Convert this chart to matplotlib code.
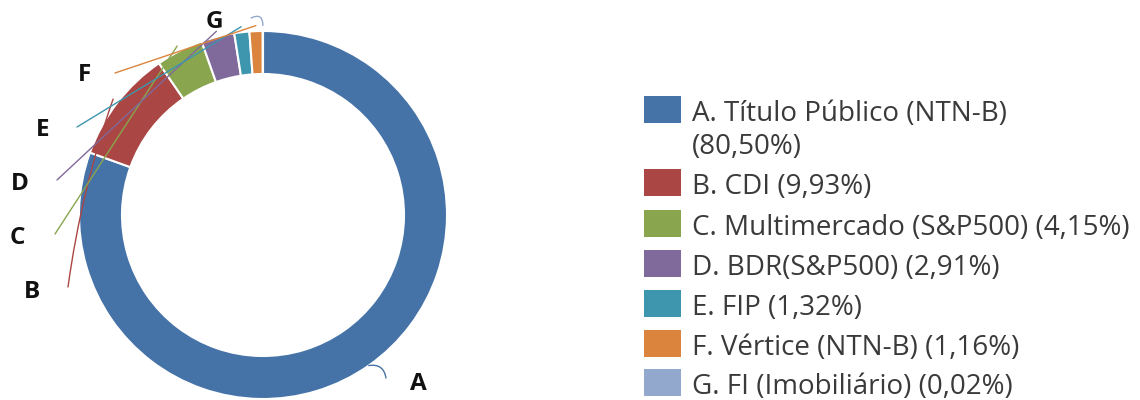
import matplotlib
matplotlib.use("Agg")
import matplotlib.pyplot as plt
from matplotlib.patches import Rectangle
import numpy as np

# ---------------------------------------------------------------------
# Data
# ---------------------------------------------------------------------
letters = ["A", "B", "C", "D", "E", "F", "G"]
names = ["Título Público (NTN-B)", "CDI", "Multimercado (S&P500)", "BDR(S&P500)",
         "FIP", "Vértice (NTN-B)", "FI (Imobiliário)"]
shares = [80.50, 9.93, 4.15, 2.91, 1.32, 1.16, 0.02]
colors = ["#4572A7", "#AA4643", "#89A54E", "#80699B", "#3D96AE", "#DB843D", "#92A8CD"]

# layout in pixel space (y measured from top, converted below)
W, H = 1140, 400
center_px = (263, 215)
radius = 184
ring = 43

# label positions and leader-line starts (pixels from top-left)
label_pos = {"A": (418, 384), "B": (32, 292), "C": (17, 238), "D": (20, 184),
             "E": (43, 130), "F": (84, 75), "G": (214, 22)}
leader_start = {"A": (386, 378), "B": (68, 287), "C": (55, 234), "D": (57, 180),
                "E": (77, 127), "F": (115, 73), "G": (251, 18)}
leader_rad = {"A": 0.5, "B": -0.05, "C": 0.0, "D": 0.0, "E": 0.0, "F": 0.0, "G": -0.8}

# legend rows: square tops (pixels from top)
sq_top = [96, 169, 210, 250, 290, 330, 369]


def Y(y):
    return H - y


fig = plt.figure(figsize=(W / 100, H / 100), dpi=100)
ax = fig.add_axes([0, 0, 1, 1])

cx, cy = center_px[0], Y(center_px[1])
wedges, _ = ax.pie(shares, colors=colors, startangle=90, counterclock=False,
                   center=(cx, cy), radius=radius,
                   wedgeprops=dict(width=ring, edgecolor="white", linewidth=1.5))

ax.set_xlim(0, W)
ax.set_ylim(0, H)
ax.set_aspect("equal")
ax.axis("off")

# leader lines + letters
for w, let, col in zip(wedges, letters, colors):
    mid = np.deg2rad((w.theta1 + w.theta2) / 2)
    r = radius * (1.0 if let == "A" else 1.03)
    px, py = cx + r * np.cos(mid), cy + r * np.sin(mid)
    sx, sy = leader_start[let]
    ax.annotate("", xy=(px, py), xytext=(sx, Y(sy)),
                arrowprops=dict(arrowstyle="-", color=col, lw=1.0,
                                shrinkA=0, shrinkB=0,
                                connectionstyle=f"arc3,rad={leader_rad[let]}"))
    lx, ly = label_pos[let]
    ax.text(lx, Y(ly), let, ha="center", va="center", fontsize=17.5,
            fontweight="bold", family="Open Sans", color="#111111")

# legend drawn by hand
leg_x, txt_x = 644, 692
fs = 20
for let, nm, val, col, top in zip(letters, names, shares, colors, sq_top):
    ax.add_patch(Rectangle((leg_x, Y(top) - 27), 37, 27, facecolor=col, edgecolor="none"))
    pct = f"({val:.2f}%)".replace(".", ",")
    base = top + 25
    if let == "A":
        ax.text(txt_x, Y(base), f"{let}. {nm}", ha="left", va="baseline",
                fontsize=fs, family="Open Sans", color="#3a3a3a")
        ax.text(txt_x, Y(base + 33), pct, ha="left", va="baseline",
                fontsize=fs, family="Open Sans", color="#3a3a3a")
    else:
        ax.text(txt_x, Y(base), f"{let}. {nm} {pct}", ha="left", va="baseline",
                fontsize=fs, family="Open Sans", color="#3a3a3a")

fig.savefig("out.png", dpi=100)
